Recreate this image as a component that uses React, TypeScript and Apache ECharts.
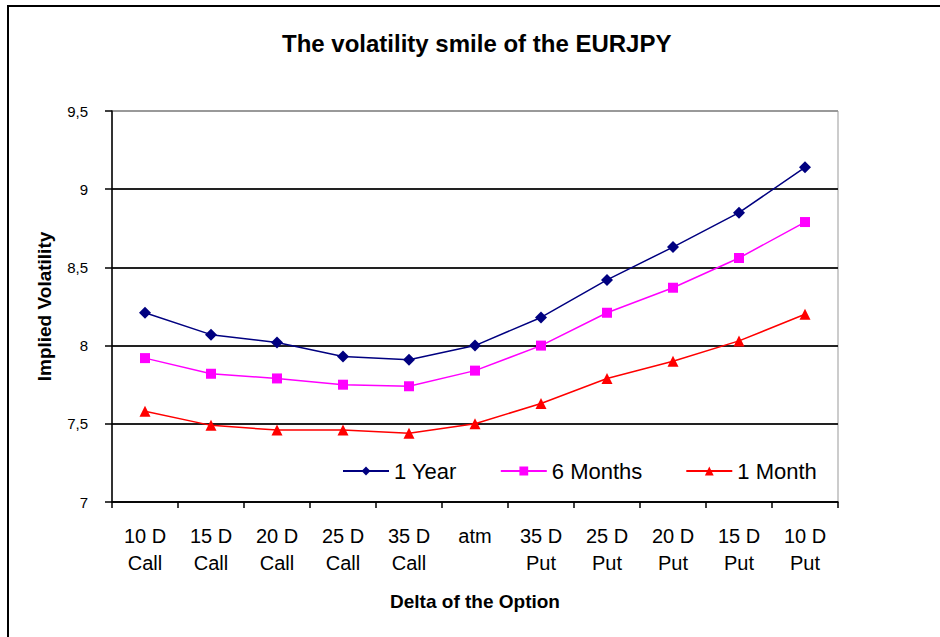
import React, { useEffect, useRef } from "react";
import * as echarts from "echarts";

const categories = [
  "10 D\nCall", "15 D\nCall", "20 D\nCall", "25 D\nCall", "35 D\nCall", "atm",
  "35 D\nPut", "25 D\nPut", "20 D\nPut", "15 D\nPut", "10 D\nPut",
];
const oneYear = [8.21, 8.07, 8.02, 7.93, 7.91, 8.0, 8.18, 8.42, 8.63, 8.85, 9.14];
const sixMonths = [7.92, 7.82, 7.79, 7.75, 7.74, 7.84, 8.0, 8.21, 8.37, 8.56, 8.79];
const oneMonth = [7.58, 7.49, 7.46, 7.46, 7.44, 7.5, 7.63, 7.79, 7.9, 8.03, 8.2];
const yTicks = { min: 7, max: 9.5, interval: 0.5 };

export default function App() {
  const ref = useRef<HTMLDivElement>(null);
  useEffect(() => {
    if (!ref.current) return;
    const chart = echarts.init(ref.current, null, { renderer: "svg" });
    const font = "Liberation Sans, Arial, sans-serif";
    chart.setOption({
      animation: false,
      backgroundColor: "#ffffff",
      textStyle: { fontFamily: font },
      title: {
        text: "The volatility smile of the EURJPY",
        left: 277,
        top: 26,
        textStyle: { fontFamily: font, fontSize: 24, fontWeight: "bold", color: "#000" },
      },
      graphic: [
        {
          type: "rect",
          shape: { x: 8, y: 6, width: 960, height: 660 },
          style: { fill: "none", stroke: "#000", lineWidth: 2 },
          z: 100,
        },
      ],
      legend: {
        left: 337,
        top: 455,
        itemWidth: 46,
        itemHeight: 11,
        itemGap: 43,
        textStyle: { fontFamily: font, fontSize: 22, color: "#000" },
        data: ["1 Year", "6 Months", "1 Month"],
      },
      grid: { left: 112, right: 102, top: 111, bottom: 135, show: true, borderColor: "#999", borderWidth: 1 },
      xAxis: {
        type: "category",
        data: categories,
        boundaryGap: true,
        name: "Delta of the Option",
        nameLocation: "middle",
        nameGap: 90,
        nameTextStyle: { fontFamily: font, fontSize: 19, fontWeight: "bold", color: "#000" },
        axisLine: { lineStyle: { color: "#000", width: 1.5 } },
        axisTick: { show: true, inside: false, length: 6, lineStyle: { color: "#000", width: 1.5 } },
        axisLabel: {
          interval: 0,
          margin: 20,
          fontFamily: font,
          fontSize: 20,
          lineHeight: 27,
          color: "#000",
        },
        splitLine: { show: false },
      },
      yAxis: {
        type: "value",
        min: yTicks.min,
        max: yTicks.max,
        interval: yTicks.interval,
        name: "Implied Volatility",
        nameLocation: "middle",
        nameGap: 58,
        nameRotate: 90,
        nameTextStyle: { fontFamily: font, fontSize: 19, fontWeight: "bold", color: "#000" },
        axisLine: { show: true, lineStyle: { color: "#000", width: 1.5 } },
        axisTick: { show: true, inside: false, length: 7, lineStyle: { color: "#000", width: 1.5 } },
        axisLabel: {
          margin: 24,
          fontFamily: font,
          fontSize: 15,
          color: "#000",
          formatter: (v: number) => String(v).replace(".", ","),
        },
        splitLine: {
          show: true,
          lineStyle: { color: ["#222", "#222", "#222", "#222", "#222", "#999"], width: 1.8 },
        },
      },
      series: [
        {
          name: "1 Year",
          type: "line",
          data: oneYear,
          symbol: "diamond",
          symbolSize: 12,
          itemStyle: { color: "#000080" },
          lineStyle: { color: "#000080", width: 1.5 },
        },
        {
          name: "6 Months",
          type: "line",
          data: sixMonths,
          symbol: "rect",
          symbolSize: 10,
          itemStyle: { color: "#FF00FF" },
          lineStyle: { color: "#FF00FF", width: 1.5 },
        },
        {
          name: "1 Month",
          type: "line",
          data: oneMonth,
          symbol: "triangle",
          symbolSize: 11,
          itemStyle: { color: "#FF0000" },
          lineStyle: { color: "#FF0000", width: 1.5 },
        },
      ],
    });
    return () => chart.dispose();
  }, []);
  return (
    <div
      ref={ref}
      style={{ position: "fixed", left: 0, top: 0, width: 940, height: 637, background: "#fff" }}
    />
  );
}
